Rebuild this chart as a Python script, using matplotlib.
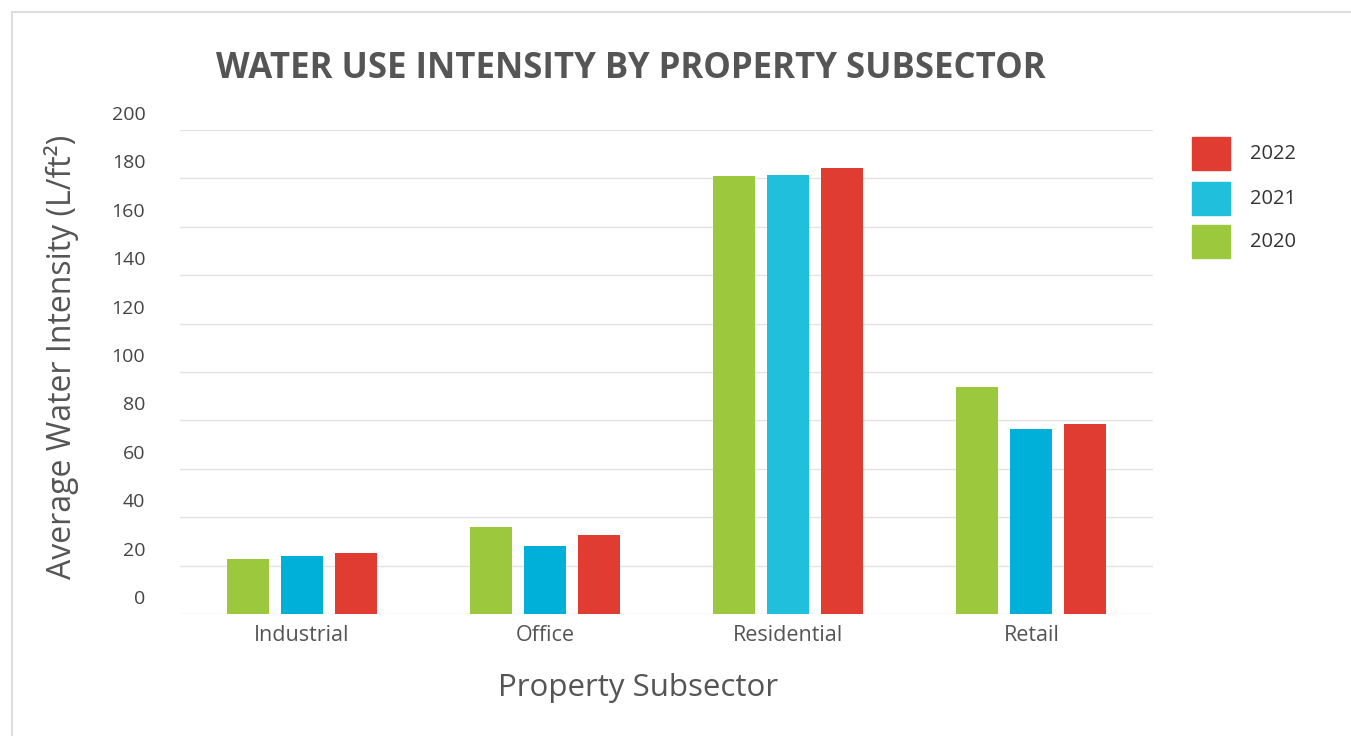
import matplotlib.pyplot as plt
import matplotlib.transforms as mtransforms
from matplotlib.patches import Rectangle
import numpy as np

categories = ['Industrial', 'Office', 'Residential', 'Retail']
years = ['2022', '2021', '2020']
wui_2020 = [22.7, 35.9, 181.0, 93.9]
wui_2021 = [24.0, 28.0, 181.5, 76.3]
wui_2022 = [25.4, 32.6, 184.2, 78.5]
yticks = [0, 20, 40, 60, 80, 100, 120, 140, 160, 180, 200]

green = '#9BC83D'
blue = '#00B0D8'
blue_light = '#20C0DC'
red = '#E03C31'
text_gray = '#555555'

plt.rcParams['font.family'] = ['Open Sans', 'DejaVu Sans']

W, H = 1351, 736
fig = plt.figure(figsize=(W / 100, H / 100), dpi=100)
ax = fig.add_axes([180 / W, 1 - 614 / H, 973 / W, 484 / H])

x = np.arange(len(categories))
width = 0.173
step = 0.222

# the residential 2021 bar is a lighter blue in the original
blue_cols = [blue, blue, blue_light, blue]
ax.bar(x - step, wui_2020, width, color=green, zorder=3)
ax.bar(x, wui_2021, width, color=blue_cols, zorder=3)
ax.bar(x + step, wui_2022, width, color=red, zorder=3)

ax.set_xlim(-0.5, len(categories) - 0.5)
ax.set_ylim(0, 200)
ax.set_yticks(yticks)
ax.grid(axis='y', color='#E3E3E3', linewidth=1, zorder=0)
for s in ax.spines.values():
    s.set_visible(False)

ax.set_xticks(x)
ax.set_xticklabels(categories, fontsize=15.5, color=text_gray)
ax.tick_params(axis='x', length=0, pad=8)
ax.tick_params(axis='y', length=0, pad=25, labelsize=14, labelcolor='#444444')

# y labels sit above their gridlines in the original
offset = mtransforms.ScaledTranslation(0, 0.17, fig.dpi_scale_trans)
for lab in ax.get_yticklabels():
    lab.set_transform(lab.get_transform() + offset)

ax.set_ylabel('Average Water Intensity (L/ft²)', fontsize=23, color=text_gray)
ax.yaxis.set_label_coords((62 - 180) / 973, (614 - 357) / 484)
ax.set_xlabel('Property Subsector', fontsize=22.5, color=text_gray)
ax.xaxis.set_label_coords((638 - 180) / 973, -(688 - 614) / 484)
ax.xaxis.label.set_va('center')
ax.yaxis.label.set_va('center')

fig.text(631 / W, 1 - 69 / H, 'WATER USE INTENSITY BY PROPERTY SUBSECTOR',
         ha='center', va='center', fontsize=25, fontweight='bold', color=text_gray)

# legend drawn by hand: squares and labels
leg_cols = [red, blue_light, green]
leg_tops = [137, 182, 225]
for yr, col, top in zip(years, leg_cols, leg_tops):
    fig.add_artist(Rectangle((1192 / W, 1 - (top + 33) / H), 38 / W, 33 / H,
                             transform=fig.transFigure, color=col))
    fig.text(1250 / W, 1 - (top + 17) / H, yr, ha='left', va='center',
             fontsize=14.5, color='#333333')

# light frame around the whole chart
fig.add_artist(Rectangle((12 / W, -0.1), 1.2, 1 - 12 / H + 0.1,
                         transform=fig.transFigure, fill=False,
                         edgecolor='#DDDDDD', linewidth=1.5))

fig.savefig('out.png', dpi=100)
